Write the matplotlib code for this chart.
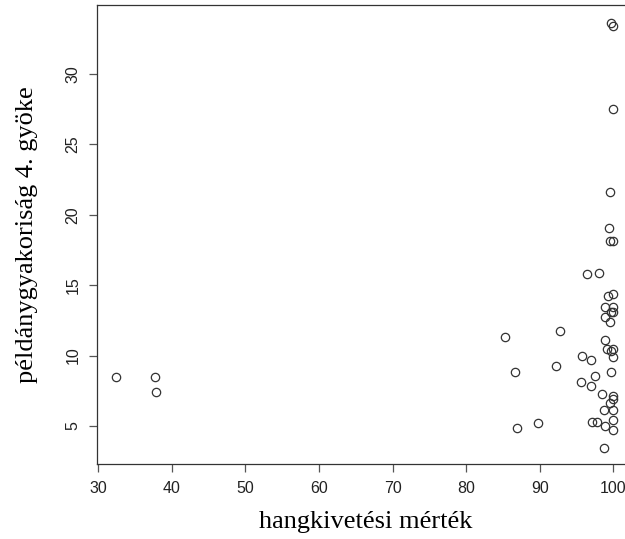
import matplotlib
matplotlib.use('Agg')
import matplotlib.pyplot as plt

# hangkivetési mérték (x) and példánygyakoriság 4. gyöke (y)
hangkivetes = [32.4, 37.7, 37.8,
               99.65, 99.9, 99.9,
               99.6, 99.4, 99.6, 100.0, 96.4, 98.1, 99.2, 99.9,
               98.9, 99.9, 99.7, 99.9, 98.8, 99.5, 85.3, 92.8, 98.9,
               99.15, 99.9, 99.7, 99.9, 95.75, 97.0, 86.6, 92.2, 99.7,
               97.5, 95.6, 97.0, 98.5, 99.9, 100.0, 99.5, 98.7, 99.9,
               86.95, 89.8, 97.15, 97.75, 98.8, 99.9, 99.95, 98.75]
gyoke = [8.5, 8.5, 7.4,
         33.6, 33.4, 27.5,
         21.6, 19.05, 18.15, 18.15, 15.8, 15.85, 14.25, 14.4,
         13.45, 13.45, 13.1, 13.1, 12.75, 12.4, 11.35, 11.75, 11.1,
         10.45, 10.5, 10.3, 9.9, 10.0, 9.7, 8.8, 9.25, 8.8,
         8.55, 8.1, 7.85, 7.25, 7.15, 6.9, 6.6, 6.1, 6.15,
         4.85, 5.2, 5.25, 5.25, 5.0, 5.45, 4.75, 3.45]

xticks = [30, 40, 50, 60, 70, 80, 90, 100]
yticks = [5, 10, 15, 20, 25, 30]

fig = plt.figure(figsize=(6.25, 5.39), dpi=100)
ax = fig.add_axes([97 / 625, 75 / 539, 537 / 625, 459 / 539])

ax.plot(hangkivetes, gyoke, linestyle='none', marker='o', markersize=6,
        markerfacecolor='none', markeredgecolor='#333333', markeredgewidth=0.9)

ax.set_xlim(29.82, 102.8)
ax.set_ylim(2.3, 34.9)
ax.set_xticks(xticks)
ax.set_yticks(yticks)

for s in ax.spines.values():
    s.set_color('#333333')
    s.set_linewidth(0.9)

ax.tick_params(direction='out', length=6, width=0.9, color='#555555',
               labelsize=11.5, labelcolor='#222222', pad=6)
for lab in ax.get_xticklabels() + ax.get_yticklabels():
    lab.set_family('Liberation Sans')
for lab in ax.get_yticklabels():
    lab.set_rotation(90)
    lab.set_va('center')

ax.set_xlabel('hangkivetési mérték', family='Liberation Serif', fontsize=19, labelpad=11)
ax.set_ylabel('példánygyakoriság 4. gyöke', family='Liberation Serif', fontsize=19, labelpad=20)

fig.savefig('out.png', dpi=100)
